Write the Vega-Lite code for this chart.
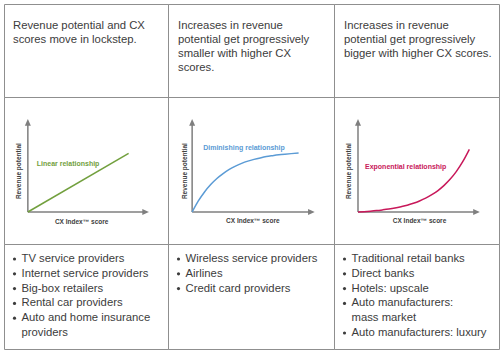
{
  "$schema": "https://vega.github.io/schema/vega-lite/v6.json",
  "padding": {"left": 3, "top": 3, "right": 2, "bottom": 5},
  "bounds": "flush",
  "background": "white",
  "spacing": 0,
  "columns": 3,
  "config": {
    "view": {"stroke": "#8f8f8f", "strokeWidth": 1},
    "text": {"font": "Liberation Sans"},
    "concat": {"spacing": 0}
  },
  "concat": [
    {
      "width": 164, "height": 93,
      "data": {"values": [
        {"line": 0, "text": "Revenue potential and CX"},
        {"line": 1, "text": "scores move in lockstep."}
      ]},
      "mark": {"type": "text", "align": "left", "baseline": "middle", "fontSize": 11.3, "color": "#3c3c3c"},
      "encoding": {
        "x": {"datum": 9, "type": "quantitative", "scale": {"domain": [0, 164], "nice": false, "zero": false}, "axis": null},
        "y": {"field": "line", "type": "quantitative", "scale": {"domain": [-1.571, 5.071], "reverse": true, "nice": false, "zero": false}, "axis": null},
        "text": {"field": "text"}
      }
    },
    {
      "width": 166, "height": 93,
      "data": {"values": [
        {"line": 0, "text": "Increases in revenue"},
        {"line": 1, "text": "potential get progressively"},
        {"line": 2, "text": "smaller with higher CX"},
        {"line": 3, "text": "scores."}
      ]},
      "mark": {"type": "text", "align": "left", "baseline": "middle", "fontSize": 11.3, "color": "#3c3c3c"},
      "encoding": {
        "x": {"datum": 10, "type": "quantitative", "scale": {"domain": [0, 166], "nice": false, "zero": false}, "axis": null},
        "y": {"field": "line", "type": "quantitative", "scale": {"domain": [-1.571, 5.071], "reverse": true, "nice": false, "zero": false}, "axis": null},
        "text": {"field": "text"}
      }
    },
    {
      "width": 165, "height": 93,
      "data": {"values": [
        {"line": 0, "text": "Increases in revenue"},
        {"line": 1, "text": "potential get progressively"},
        {"line": 2, "text": "bigger with higher CX scores."}
      ]},
      "mark": {"type": "text", "align": "left", "baseline": "middle", "fontSize": 11.3, "color": "#3c3c3c"},
      "encoding": {
        "x": {"datum": 10, "type": "quantitative", "scale": {"domain": [0, 165], "nice": false, "zero": false}, "axis": null},
        "y": {"field": "line", "type": "quantitative", "scale": {"domain": [-1.571, 5.071], "reverse": true, "nice": false, "zero": false}, "axis": null},
        "text": {"field": "text"}
      }
    },
    {
      "width": 164, "height": 147,
      "layer": [
        {
          "data": {"values": [{"x": 0, "y": 0, "x2": 0, "y2": 0.946}, {"x": 0, "y": 0, "x2": 0.959, "y2": 0}]},
          "mark": {"type": "rule", "color": "#7f7f7f", "strokeWidth": 1.5},
          "encoding": {
            "x": {"field": "x", "type": "quantitative", "scale": {"domain": [-0.195, 1.146], "nice": false, "zero": false}, "axis": null},
            "y": {"field": "y", "type": "quantitative", "scale": {"domain": [-0.344, 1.237], "nice": false, "zero": false}, "axis": null},
            "x2": {"field": "x2"},
            "y2": {"field": "y2"}
          }
        },
        {
          "data": {"values": [{"x": 0, "y": 1, "dir": "up"}, {"x": 0.99, "y": 0, "dir": "right"}]},
          "mark": {"type": "point", "filled": true, "size": 36, "color": "#7f7f7f", "opacity": 1},
          "encoding": {
            "x": {"field": "x", "type": "quantitative", "axis": null},
            "y": {"field": "y", "type": "quantitative", "axis": null},
            "shape": {"field": "dir", "type": "nominal", "scale": {"domain": ["up", "right"], "range": ["M0,0L-1,2.2L1,2.2Z", "M0,0L-2.2,-1L-2.2,1Z"]}, "legend": null}
          }
        },
        {
          "data": {"values": [{"t": 0, "v": 0}, {"t": 0.824, "v": 0.631}]},
          "mark": {"type": "line", "color": "#72a03e", "strokeWidth": 1.5},
          "encoding": {
            "x": {"field": "t", "type": "quantitative", "axis": null},
            "y": {"field": "v", "type": "quantitative", "axis": null}
          }
        },
        {
          "data": {"values": [{"x": 0.073, "y": 0.516, "text": "Linear relationship"}]},
          "mark": {"type": "text", "align": "left", "baseline": "middle", "fontSize": 7, "fontWeight": "bold", "color": "#72a03e"},
          "encoding": {
            "x": {"field": "x", "type": "quantitative", "axis": null},
            "y": {"field": "y", "type": "quantitative", "axis": null},
            "text": {"field": "text"}
          }
        },
        {
          "data": {"values": [{"x": -0.075, "y": 0.44, "text": "Revenue potential"}]},
          "mark": {"type": "text", "align": "center", "baseline": "middle", "angle": 270, "fontSize": 6.5, "fontWeight": "bold", "color": "#404040"},
          "encoding": {
            "x": {"field": "x", "type": "quantitative", "axis": null},
            "y": {"field": "y", "type": "quantitative", "axis": null},
            "text": {"field": "text"}
          }
        },
        {
          "data": {"values": [{"x": 0.44, "y": -0.108, "text": "CX Index™ score"}]},
          "mark": {"type": "text", "align": "center", "baseline": "middle", "fontSize": 6.5, "fontWeight": "bold", "color": "#404040"},
          "encoding": {
            "x": {"field": "x", "type": "quantitative", "axis": null},
            "y": {"field": "y", "type": "quantitative", "axis": null},
            "text": {"field": "text"}
          }
        }
      ]
    },
    {
      "width": 166, "height": 147,
      "layer": [
        {
          "data": {"values": [{"x": 0, "y": 0, "x2": 0, "y2": 0.946}, {"x": 0, "y": 0, "x2": 0.959, "y2": 0}]},
          "mark": {"type": "rule", "color": "#7f7f7f", "strokeWidth": 1.5},
          "encoding": {
            "x": {"field": "x", "type": "quantitative", "scale": {"domain": [-0.195, 1.146], "nice": false, "zero": false}, "axis": null},
            "y": {"field": "y", "type": "quantitative", "scale": {"domain": [-0.344, 1.237], "nice": false, "zero": false}, "axis": null},
            "x2": {"field": "x2"},
            "y2": {"field": "y2"}
          }
        },
        {
          "data": {"values": [{"x": 0, "y": 1, "dir": "up"}, {"x": 0.99, "y": 0, "dir": "right"}]},
          "mark": {"type": "point", "filled": true, "size": 36, "color": "#7f7f7f", "opacity": 1},
          "encoding": {
            "x": {"field": "x", "type": "quantitative", "axis": null},
            "y": {"field": "y", "type": "quantitative", "axis": null},
            "shape": {"field": "dir", "type": "nominal", "scale": {"domain": ["up", "right"], "range": ["M0,0L-1,2.2L1,2.2Z", "M0,0L-2.2,-1L-2.2,1Z"]}, "legend": null}
          }
        },
        {
          "data": {"values": [
            {"t": 0, "v": 0}, {"t": 0.05, "v": 0.119}, {"t": 0.1, "v": 0.216}, {"t": 0.15, "v": 0.296},
            {"t": 0.2, "v": 0.361}, {"t": 0.25, "v": 0.414}, {"t": 0.3, "v": 0.458}, {"t": 0.35, "v": 0.493},
            {"t": 0.4, "v": 0.523}, {"t": 0.45, "v": 0.547}, {"t": 0.5, "v": 0.566}, {"t": 0.55, "v": 0.582},
            {"t": 0.6, "v": 0.596}, {"t": 0.65, "v": 0.606}, {"t": 0.7, "v": 0.615}, {"t": 0.75, "v": 0.622},
            {"t": 0.8, "v": 0.628}, {"t": 0.86, "v": 0.634}
          ]},
          "mark": {"type": "line", "color": "#5b9bd5", "strokeWidth": 1.5, "interpolate": "monotone"},
          "encoding": {
            "x": {"field": "t", "type": "quantitative", "axis": null},
            "y": {"field": "v", "type": "quantitative", "axis": null}
          }
        },
        {
          "data": {"values": [{"x": 0.089, "y": 0.688, "text": "Diminishing relationship"}]},
          "mark": {"type": "text", "align": "left", "baseline": "middle", "fontSize": 7, "fontWeight": "bold", "color": "#5b9bd5"},
          "encoding": {
            "x": {"field": "x", "type": "quantitative", "axis": null},
            "y": {"field": "y", "type": "quantitative", "axis": null},
            "text": {"field": "text"}
          }
        },
        {
          "data": {"values": [{"x": -0.06, "y": 0.44, "text": "Revenue potential"}]},
          "mark": {"type": "text", "align": "center", "baseline": "middle", "angle": 270, "fontSize": 6.5, "fontWeight": "bold", "color": "#404040"},
          "encoding": {
            "x": {"field": "x", "type": "quantitative", "axis": null},
            "y": {"field": "y", "type": "quantitative", "axis": null},
            "text": {"field": "text"}
          }
        },
        {
          "data": {"values": [{"x": 0.49, "y": -0.095, "text": "CX Index™ score"}]},
          "mark": {"type": "text", "align": "center", "baseline": "middle", "fontSize": 6.5, "fontWeight": "bold", "color": "#404040"},
          "encoding": {
            "x": {"field": "x", "type": "quantitative", "axis": null},
            "y": {"field": "y", "type": "quantitative", "axis": null},
            "text": {"field": "text"}
          }
        }
      ]
    },
    {
      "width": 165, "height": 147,
      "layer": [
        {
          "data": {"values": [{"x": 0, "y": 0, "x2": 0, "y2": 0.946}, {"x": 0, "y": 0, "x2": 0.959, "y2": 0}]},
          "mark": {"type": "rule", "color": "#7f7f7f", "strokeWidth": 1.5},
          "encoding": {
            "x": {"field": "x", "type": "quantitative", "scale": {"domain": [-0.195, 1.146], "nice": false, "zero": false}, "axis": null},
            "y": {"field": "y", "type": "quantitative", "scale": {"domain": [-0.344, 1.237], "nice": false, "zero": false}, "axis": null},
            "x2": {"field": "x2"},
            "y2": {"field": "y2"}
          }
        },
        {
          "data": {"values": [{"x": 0, "y": 1, "dir": "up"}, {"x": 0.99, "y": 0, "dir": "right"}]},
          "mark": {"type": "point", "filled": true, "size": 36, "color": "#7f7f7f", "opacity": 1},
          "encoding": {
            "x": {"field": "x", "type": "quantitative", "axis": null},
            "y": {"field": "y", "type": "quantitative", "axis": null},
            "shape": {"field": "dir", "type": "nominal", "scale": {"domain": ["up", "right"], "range": ["M0,0L-1,2.2L1,2.2Z", "M0,0L-2.2,-1L-2.2,1Z"]}, "legend": null}
          }
        },
        {
          "data": {"values": [
            {"t": 0, "v": 0}, {"t": 0.05, "v": 0.004}, {"t": 0.1, "v": 0.009}, {"t": 0.15, "v": 0.015},
            {"t": 0.2, "v": 0.023}, {"t": 0.25, "v": 0.032}, {"t": 0.3, "v": 0.043}, {"t": 0.35, "v": 0.057},
            {"t": 0.4, "v": 0.073}, {"t": 0.45, "v": 0.094}, {"t": 0.5, "v": 0.119}, {"t": 0.55, "v": 0.149},
            {"t": 0.6, "v": 0.186}, {"t": 0.65, "v": 0.231}, {"t": 0.7, "v": 0.287}, {"t": 0.75, "v": 0.354},
            {"t": 0.8, "v": 0.437}, {"t": 0.85, "v": 0.538}, {"t": 0.905, "v": 0.674}
          ]},
          "mark": {"type": "line", "color": "#c8185a", "strokeWidth": 1.5, "interpolate": "monotone"},
          "encoding": {
            "x": {"field": "t", "type": "quantitative", "axis": null},
            "y": {"field": "v", "type": "quantitative", "axis": null}
          }
        },
        {
          "data": {"values": [{"x": 0.057, "y": 0.484, "text": "Exponential relationship"}]},
          "mark": {"type": "text", "align": "left", "baseline": "middle", "fontSize": 7, "fontWeight": "bold", "color": "#c8185a"},
          "encoding": {
            "x": {"field": "x", "type": "quantitative", "axis": null},
            "y": {"field": "y", "type": "quantitative", "axis": null},
            "text": {"field": "text"}
          }
        },
        {
          "data": {"values": [{"x": -0.075, "y": 0.44, "text": "Revenue potential"}]},
          "mark": {"type": "text", "align": "center", "baseline": "middle", "angle": 270, "fontSize": 6.5, "fontWeight": "bold", "color": "#404040"},
          "encoding": {
            "x": {"field": "x", "type": "quantitative", "axis": null},
            "y": {"field": "y", "type": "quantitative", "axis": null},
            "text": {"field": "text"}
          }
        },
        {
          "data": {"values": [{"x": 0.5, "y": -0.1, "text": "CX Index™ score"}]},
          "mark": {"type": "text", "align": "center", "baseline": "middle", "fontSize": 6.5, "fontWeight": "bold", "color": "#404040"},
          "encoding": {
            "x": {"field": "x", "type": "quantitative", "axis": null},
            "y": {"field": "y", "type": "quantitative", "axis": null},
            "text": {"field": "text"}
          }
        }
      ]
    },
    {
      "width": 164, "height": 105,
      "data": {"values": [
        {"line": 0, "text": "TV service providers", "bullet": true},
        {"line": 1, "text": "Internet service providers", "bullet": true},
        {"line": 2, "text": "Big-box retailers", "bullet": true},
        {"line": 3, "text": "Rental car providers", "bullet": true},
        {"line": 4, "text": "Auto and home insurance", "bullet": true},
        {"line": 5, "text": "providers", "bullet": false}
      ]},
      "layer": [
        {
          "mark": {"type": "text", "align": "left", "baseline": "middle", "fontSize": 11.3, "color": "#3c3c3c"},
          "encoding": {
            "x": {"datum": 17.5, "type": "quantitative", "scale": {"domain": [0, 164], "nice": false, "zero": false}, "axis": null},
            "y": {"field": "line", "type": "quantitative", "scale": {"domain": [-1.014, 6.081], "reverse": true, "nice": false, "zero": false}, "axis": null},
            "text": {"field": "text"}
          }
        },
        {
          "transform": [{"filter": "datum.bullet"}],
          "mark": {"type": "point", "shape": "circle", "filled": true, "size": 10, "color": "#3c3c3c", "opacity": 1},
          "encoding": {
            "x": {"datum": 10.5, "type": "quantitative", "axis": null},
            "y": {"field": "line", "type": "quantitative", "axis": null}
          }
        }
      ]
    },
    {
      "width": 166, "height": 105,
      "data": {"values": [
        {"line": 0, "text": "Wireless service providers", "bullet": true},
        {"line": 1, "text": "Airlines", "bullet": true},
        {"line": 2, "text": "Credit card providers", "bullet": true}
      ]},
      "layer": [
        {
          "mark": {"type": "text", "align": "left", "baseline": "middle", "fontSize": 11.3, "color": "#3c3c3c"},
          "encoding": {
            "x": {"datum": 17.5, "type": "quantitative", "scale": {"domain": [0, 166], "nice": false, "zero": false}, "axis": null},
            "y": {"field": "line", "type": "quantitative", "scale": {"domain": [-1.014, 6.081], "reverse": true, "nice": false, "zero": false}, "axis": null},
            "text": {"field": "text"}
          }
        },
        {
          "transform": [{"filter": "datum.bullet"}],
          "mark": {"type": "point", "shape": "circle", "filled": true, "size": 10, "color": "#3c3c3c", "opacity": 1},
          "encoding": {
            "x": {"datum": 10.5, "type": "quantitative", "axis": null},
            "y": {"field": "line", "type": "quantitative", "axis": null}
          }
        }
      ]
    },
    {
      "width": 165, "height": 105,
      "data": {"values": [
        {"line": 0, "text": "Traditional retail banks", "bullet": true},
        {"line": 1, "text": "Direct banks", "bullet": true},
        {"line": 2, "text": "Hotels: upscale", "bullet": true},
        {"line": 3, "text": "Auto manufacturers:", "bullet": true},
        {"line": 4, "text": "mass market", "bullet": false},
        {"line": 5, "text": "Auto manufacturers: luxury", "bullet": true}
      ]},
      "layer": [
        {
          "mark": {"type": "text", "align": "left", "baseline": "middle", "fontSize": 11.3, "color": "#3c3c3c"},
          "encoding": {
            "x": {"datum": 17.5, "type": "quantitative", "scale": {"domain": [0, 165], "nice": false, "zero": false}, "axis": null},
            "y": {"field": "line", "type": "quantitative", "scale": {"domain": [-1.014, 6.081], "reverse": true, "nice": false, "zero": false}, "axis": null},
            "text": {"field": "text"}
          }
        },
        {
          "transform": [{"filter": "datum.bullet"}],
          "mark": {"type": "point", "shape": "circle", "filled": true, "size": 10, "color": "#3c3c3c", "opacity": 1},
          "encoding": {
            "x": {"datum": 10.5, "type": "quantitative", "axis": null},
            "y": {"field": "line", "type": "quantitative", "axis": null}
          }
        }
      ]
    }
  ]
}
